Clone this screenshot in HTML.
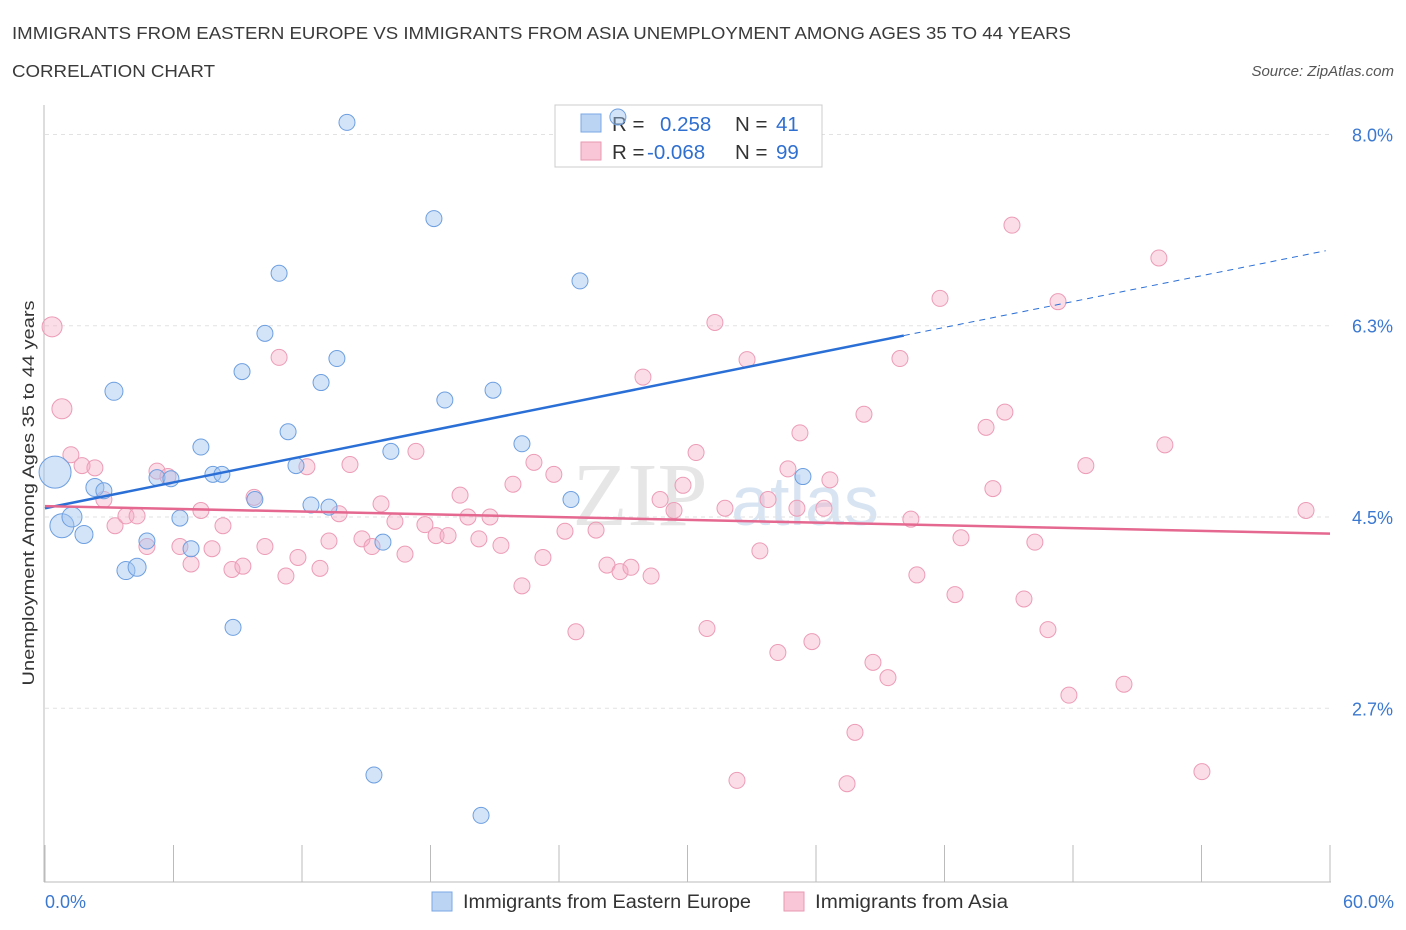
<!DOCTYPE html>
<html><head><meta charset="utf-8"><style>
body{margin:0;background:#fff;font-family:"Liberation Sans",sans-serif;}
#wrap{position:relative;width:1406px;height:930px;overflow:hidden;}
</style></head><body>
<div id="wrap">
<svg id="svg" width="1406" height="930" xmlns="http://www.w3.org/2000/svg">
<text x="12" y="39" font-size="17.5" fill="#3a3a3a" textLength="1059" lengthAdjust="spacingAndGlyphs">IMMIGRANTS FROM EASTERN EUROPE VS IMMIGRANTS FROM ASIA UNEMPLOYMENT AMONG AGES 35 TO 44 YEARS</text>
<text x="12" y="77" font-size="17.5" fill="#3a3a3a" textLength="203" lengthAdjust="spacingAndGlyphs">CORRELATION CHART</text>
<text x="1394" y="76" font-size="15" fill="#555" font-style="italic" text-anchor="end">Source: ZipAtlas.com</text>
<text x="640" y="525" font-size="90" fill="#e6e6e6" font-family="Liberation Serif,serif" text-anchor="middle">ZIP</text>
<text x="805" y="525" font-size="70" fill="#d8e4f2" text-anchor="middle">atlas</text>
<g id="grid"></g><g id="axes"></g>
<g>
<rect x="555" y="105" width="267" height="62" fill="#fff" stroke="#ccc"/>
<rect x="581" y="114" width="20" height="18" fill="#bcd4f4" stroke="#7aa8e4"/>
<rect x="581" y="142" width="20" height="18" fill="#f8c6d6" stroke="#e99ab3"/>
<text y="131" font-size="20.5" fill="#333"><tspan x="612">R =</tspan><tspan x="660" fill="#2f6fd0">0.258</tspan><tspan x="735">N =</tspan><tspan x="776" fill="#2f6fd0">41</tspan></text>
<text y="159" font-size="20.5" fill="#333"><tspan x="612">R =</tspan><tspan x="647" fill="#2f6fd0">-0.068</tspan><tspan x="735">N =</tspan><tspan x="776" fill="#2f6fd0">99</tspan></text>
</g>
<g id="pts"></g><g id="lines"></g>
<text transform="translate(34,493) rotate(-90)" font-size="17" fill="#333" text-anchor="middle" textLength="385" lengthAdjust="spacingAndGlyphs">Unemployment Among Ages 35 to 44 years</text>
<g>
<rect x="432" y="892" width="20" height="19" fill="#bcd4f4" stroke="#7aa8e4"/>
<text x="463" y="908" font-size="19" fill="#333" textLength="288" lengthAdjust="spacingAndGlyphs">Immigrants from Eastern Europe</text>
<rect x="784" y="892" width="20" height="19" fill="#f8c6d6" stroke="#e99ab3"/>
<text x="815" y="908" font-size="19" fill="#333" textLength="193" lengthAdjust="spacingAndGlyphs">Immigrants from Asia</text>
</g>
</svg>
</div>
<script>
const yTicks=[2.75,4.5,6.25,8.0];
const yTickLabels=["2.7%","4.5%","6.3%","8.0%"];
const xTickLabels=["0.0%","60.0%"];
const europeX=[0.47,0.79,1.26,1.82,2.33,2.75,3.22,3.78,4.30,4.76,5.23,5.88,6.30,6.82,7.28,7.84,8.26,8.78,9.20,9.80,10.27,10.93,11.35,11.72,12.42,12.89,13.26,13.63,14.10,15.36,15.78,16.15,18.16,18.67,20.36,20.92,22.27,24.56,24.98,26.75,35.39];
const europeY=[4.91,4.42,4.50,4.34,4.77,4.74,5.65,4.01,4.04,4.28,4.86,4.85,4.49,4.21,5.14,4.89,4.89,3.49,5.83,4.66,6.18,6.73,5.28,4.97,4.61,5.73,4.59,5.95,8.11,2.14,4.27,5.10,7.23,5.57,1.77,5.66,5.17,4.66,6.66,8.16,4.87];
const europeR=[16,12,10,9,9,8,9,9,9,8,8,8,8,8,8,8,8,8,8,8,8,8,8,8,8,8,8,8,8,8,8,8,8,8,8,8,8,8,8,8,8];
const asiaX=[0.33,0.79,1.21,1.73,2.33,2.75,3.27,3.78,4.30,4.76,5.23,5.74,6.30,6.82,7.28,7.80,8.31,8.73,9.24,9.76,10.27,10.93,11.25,11.81,12.23,12.84,13.26,13.73,14.24,14.80,15.27,15.69,16.34,16.81,17.32,17.74,18.26,18.82,19.38,19.75,20.26,20.78,21.29,21.85,22.27,22.83,23.25,23.76,24.28,24.79,25.73,26.24,26.85,27.36,27.92,28.30,28.72,29.37,29.79,30.40,30.91,31.28,31.75,32.31,32.78,33.38,33.76,34.22,34.69,35.11,35.25,35.81,36.37,36.65,37.45,37.82,38.24,38.66,39.36,39.92,40.43,40.71,41.79,42.49,42.77,43.94,44.26,44.82,45.15,45.71,46.22,46.83,47.30,47.81,48.60,50.38,52.01,52.29,54.02,58.88];
const asiaY=[6.24,5.49,5.07,4.97,4.95,4.66,4.42,4.51,4.51,4.23,4.92,4.87,4.23,4.07,4.56,4.21,4.42,4.02,4.05,4.68,4.23,5.96,3.96,4.13,4.96,4.03,4.28,4.53,4.98,4.30,4.23,4.62,4.46,4.16,5.10,4.43,4.33,4.33,4.70,4.50,4.30,4.50,4.24,4.80,3.87,5.00,4.13,4.89,4.37,3.45,4.38,4.06,4.00,4.04,5.78,3.96,4.66,4.56,4.79,5.09,3.48,6.28,4.58,2.09,5.94,4.19,4.66,3.26,4.94,4.58,5.27,3.36,4.58,4.84,2.06,2.53,5.44,3.17,3.03,5.95,4.48,3.97,6.50,3.79,4.31,5.32,4.76,5.46,7.17,3.75,4.27,3.47,6.47,2.87,4.97,2.97,6.87,5.16,2.17,4.56];
const europeTrend=[4.58,0.0394]; // intercept, slope
const asiaTrend=[4.60,-0.0042];
const europeSolidEnd=40.1;

const X=v=>45+v*(1285/60);
const Y=v=>517-(v-4.5)*109.3;
const NS="http://www.w3.org/2000/svg";
function mk(tag,attrs,parent){const e=document.createElementNS(NS,tag);for(const k in attrs)e.setAttribute(k,attrs[k]);document.getElementById(parent).appendChild(e);return e;}
yTicks.forEach((t,i)=>{
 const g=mk('line',{x1:45,x2:1330,y1:Y(t),y2:Y(t),stroke:'#e2e2e2','stroke-dasharray':'4,4'},'grid');
 
 
 const l=mk('text',{x:1393,y:Y(t)+7,'font-size':18,fill:'#3b78d0','text-anchor':'end'},'grid');
 l.textContent=yTickLabels[i];
 
 
});
const ax=mk('line',{x1:44,x2:44,y1:105,y2:882,stroke:'#bbb'},'axes');


const bx=mk('line',{x1:44,x2:1331,y1:882,y2:882,stroke:'#bbb'},'axes');


for(let i=0;i<=10;i++){
 const t=mk('line',{x1:X(i*6),x2:X(i*6),y1:845,y2:882,stroke:'#bbb'},'axes');
 
 
}
[[0,'start',45],[60,'end',1394]].forEach((d,i)=>{
 const t=mk('text',{x:d[2],y:908,'font-size':18,fill:'#3b78d0','text-anchor':d[1]},'axes');
 t.textContent=xTickLabels[i];
 
 
});
asiaX.forEach((x,i)=>{
 const c=mk('circle',{cx:X(x),cy:Y(asiaY[i]),r:i<2?10:8,fill:'rgba(244,170,195,0.4)',stroke:'#ec9cb6','stroke-width':1},'pts');
 
 
});
europeX.forEach((x,i)=>{
 const c=mk('circle',{cx:X(x),cy:Y(europeY[i]),r:europeR[i],fill:'rgba(160,196,240,0.45)',stroke:'#6d9fe0','stroke-width':1},'pts');
 
 
});
const ey=x=>europeTrend[0]+europeTrend[1]*x, ay=x=>asiaTrend[0]+asiaTrend[1]*x;
const l1=mk('line',{x1:X(0),y1:Y(ey(0)),x2:X(europeSolidEnd),y2:Y(ey(europeSolidEnd)),stroke:'#2a6fd6','stroke-width':2.5},'lines');


const l2=mk('line',{x1:X(europeSolidEnd),y1:Y(ey(europeSolidEnd)),x2:X(59.8),y2:Y(ey(59.8)),stroke:'#2a6fd6','stroke-width':1,'stroke-dasharray':'6,5'},'lines');


const l3=mk('line',{x1:X(0),y1:Y(ay(0)),x2:X(60),y2:Y(ay(60)),stroke:'#e4688f','stroke-width':2.5},'lines');


</script>
</body></html>
